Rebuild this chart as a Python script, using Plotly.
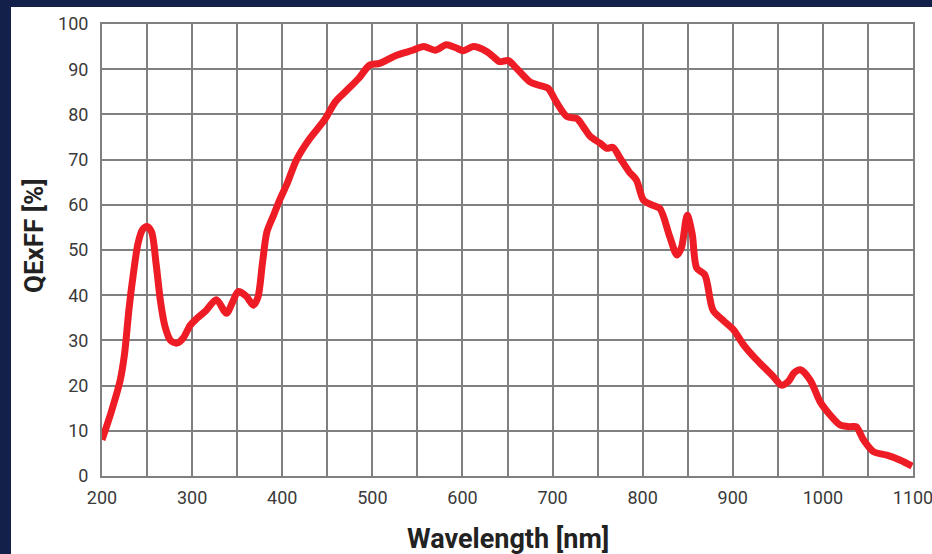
import plotly.graph_objects as go

wavelength = [200, 210, 220, 225, 230, 235, 240, 245, 250, 255, 260, 265, 270, 276, 283,
              290, 298, 305, 315, 327, 338, 345, 351, 360, 368, 373, 378, 383, 390, 397,
              405, 416, 430, 447, 459, 470, 485, 497, 508, 527, 545, 557, 570, 582, 592,
              601, 612, 627, 634, 641, 651, 660, 675, 684, 695, 704, 716, 727, 734, 742,
              753, 760, 767, 775, 785, 793, 801, 810, 819, 830, 838, 843, 849.5, 855, 860,
              869, 878, 890, 901, 912, 925, 935, 945, 954, 962, 968, 975, 986, 997, 1008,
              1019, 1030, 1037, 1045, 1056, 1071, 1086, 1099]
qe = [8, 14, 21, 27, 37, 45, 51.5, 54.5, 55.2, 54, 47, 38.5, 33, 30, 29.4,
      30.5, 33.4, 34.8, 36.5, 39, 36, 38.5, 40.8, 39.8, 37.8, 39.5, 47, 54, 57.5, 61,
      64.5, 70, 74.5, 78.8, 82.8, 85, 88, 90.9, 91.3, 93.1, 94.2, 95, 94.2, 95.4, 94.8,
      94.1, 95, 93.9, 92.8, 91.7, 91.9, 90.2, 87.2, 86.5, 85.8, 82.8, 79.5, 79.1, 77.3, 75.1,
      73.6, 72.5, 72.7, 70.3, 67.3, 65.5, 61, 60, 59.2, 53, 48.9, 50.5, 57.7, 53.5, 46,
      44.5, 36.7, 34.3, 32.3, 29, 26, 24, 22, 20.1, 21, 22.8, 23.5, 21.2, 16.4, 13.5,
      11.3, 10.9, 10.9, 8, 5.4, 4.6, 3.5, 2.2]

x_ticks = [200, 300, 400, 500, 600, 700, 800, 900, 1000, 1100]
y_ticks = [0, 10, 20, 30, 40, 50, 60, 70, 80, 90, 100]

FONT = "Roboto, Liberation Sans Narrow, Arial Narrow, sans-serif"
NAVY = "#13204a"
GRID = "#808080"

fig = go.Figure()
fig.add_trace(go.Scatter(
    x=wavelength, y=qe, mode="lines",
    line=dict(color="#ee1c25", width=7, shape="spline", smoothing=0.8),
    hoverinfo="x+y", showlegend=False,
))

fig.update_layout(
    width=932, height=554,
    margin=dict(l=102, r=19, t=24, b=78, autoexpand=False),
    paper_bgcolor="white", plot_bgcolor="white",
    font=dict(family=FONT, color="#3a3a3a", size=18),
    xaxis=dict(
        range=[200, 1100], tickvals=x_ticks, ticktext=[str(v) for v in x_ticks],
        showgrid=True, gridcolor=GRID, gridwidth=2,
        minor=dict(dtick=50, showgrid=True, gridcolor=GRID, gridwidth=2),
        showline=True, linecolor=GRID, linewidth=2, mirror=True,
        zeroline=False, ticks="", ticklabelstandoff=4, ticklabeloverflow="allow",
        automargin=False,
        tickfont=dict(family=FONT, size=18, color="#3a3a3a"),
    ),
    yaxis=dict(
        range=[0, 100], tickvals=y_ticks,
        showgrid=True, gridcolor=GRID, gridwidth=2,
        showline=True, linecolor=GRID, linewidth=2, mirror=True,
        zeroline=False, ticks="", ticklabelstandoff=8, automargin=False,
        tickfont=dict(family=FONT, size=18, color="#3a3a3a"),
    ),
    shapes=[
        dict(type="rect", xref="paper", yref="paper", x0=-0.13, x1=(11 - 102) / 811,
             y0=-0.2, y1=1.06, fillcolor=NAVY, line=dict(width=0), layer="above"),
        dict(type="rect", xref="paper", yref="paper", x0=-0.13, x1=1.03,
             y0=1 + (24 - 7) / 452, y1=1.06, fillcolor=NAVY, line=dict(width=0), layer="above"),
    ],
    annotations=[
        dict(text="<b>QExFF [%]</b>", xref="paper", yref="paper",
             x=(34 - 102) / 811, y=(476 - 236) / 452, textangle=-90,
             showarrow=False, xanchor="center", yanchor="middle",
             font=dict(family=FONT, size=26, color="#222222")),
        dict(text="<b>Wavelength [nm]</b>", xref="paper", yref="paper",
             x=(508 - 102) / 811, y=(476 - 539) / 452,
             showarrow=False, xanchor="center", yanchor="middle",
             font=dict(family=FONT, size=27, color="#222222")),
    ],
)

fig.write_html("out.html", config={"displayModeBar": False},
               post_script="document.body.style.margin='0px';")
